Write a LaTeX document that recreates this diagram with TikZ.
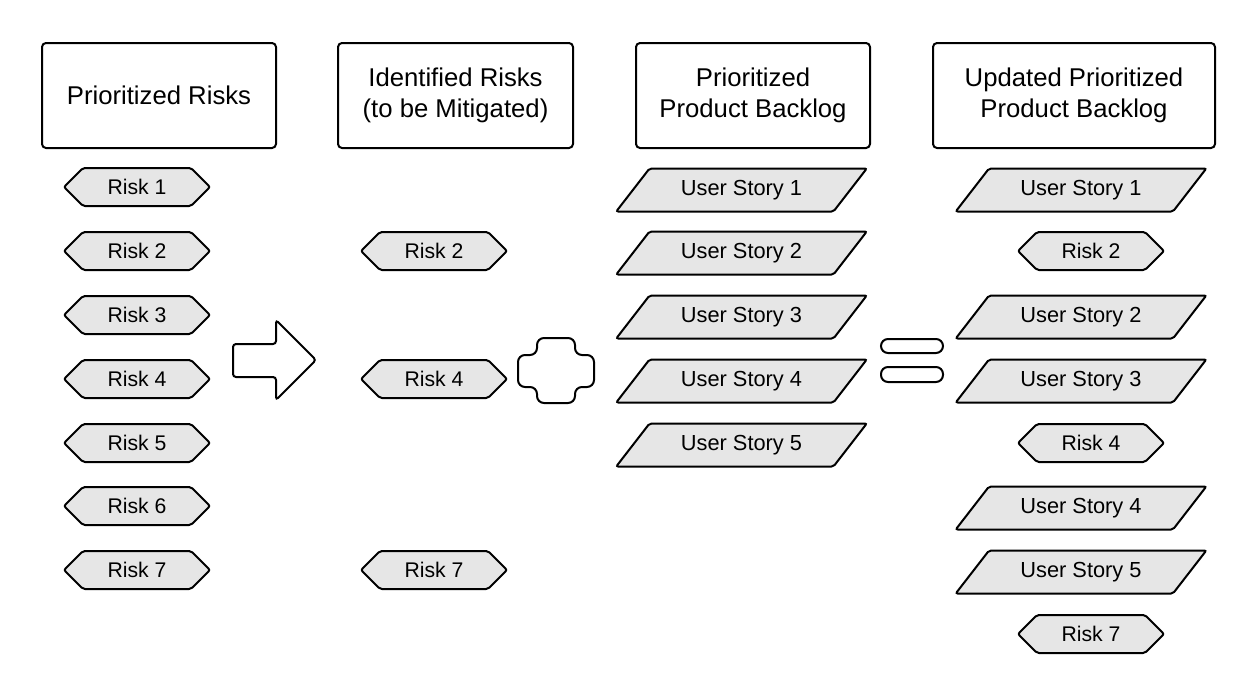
\documentclass[tikz,border=0pt]{standalone}
\usepackage{fontspec}
\setmainfont{Liberation Sans}
\usetikzlibrary{shapes.symbols,shapes.geometric}
\definecolor{boxgray}{HTML}{E6E6E6}
\tikzset{
  hdr/.style={draw, line width=1pt, rounded corners=2pt, minimum width=117pt, minimum height=52.5pt, align=center, font=\fontsize{12.85}{15.5}\selectfont},
  risk/.style={draw, fill=boxgray, line width=1pt, rounded corners=1pt, signal, signal to=west and east, signal pointer angle=90, minimum width=73pt, minimum height=19pt, inner sep=0pt, font=\fontsize{10.6}{12}\selectfont},
  story/.style={draw, fill=boxgray, line width=1pt, rounded corners=1pt, trapezium, trapezium left angle=42, trapezium right angle=138, trapezium stretches=true, minimum width=125.5pt, minimum height=21.5pt, inner sep=0pt, font=\fontsize{10.9}{12}\selectfont},
  sym/.style={draw, line width=1pt}
}
\begin{document}
\begin{tikzpicture}[x=0.5pt,y=-0.5pt]
\useasboundingbox (0,0) rectangle (1258,696);
% headers
\node[hdr] (hrisks) at (159,95.5) {Prioritized Risks};
\node[hdr, minimum width=117.5pt] (hident) at (455.5,95.5) {Identified Risks\\(to be Mitigated)};
\node[hdr] (hback) at (753,95.5) {Prioritized\\Product Backlog};
\node[hdr, minimum width=141pt] (hupd) at (1074,95.5) {Updated Prioritized\\Product Backlog};
% prioritized risks
\node[risk] (pr1) at (137,187) {Risk 1};
\node[risk] (pr2) at (137,251) {Risk 2};
\node[risk] (pr3) at (137,315) {Risk 3};
\node[risk] (pr4) at (137,379) {Risk 4};
\node[risk] (pr5) at (137,443) {Risk 5};
\node[risk] (pr6) at (137,506) {Risk 6};
\node[risk] (pr7) at (137,570) {Risk 7};
% identified risks
\node[risk] (ir2) at (434,251) {Risk 2};
\node[risk] (ir4) at (434,379) {Risk 4};
\node[risk] (ir7) at (434,570) {Risk 7};
% product backlog
\node[story] (us1) at (741.5,190) {User Story 1};
\node[story] (us2) at (741.5,253) {User Story 2};
\node[story] (us3) at (741.5,317) {User Story 3};
\node[story] (us4) at (741.5,381) {User Story 4};
\node[story] (us5) at (741.5,445) {User Story 5};
% updated backlog
\node[story] (ub1) at (1081,190) {User Story 1};
\node[risk] (ubr2) at (1091,251) {Risk 2};
\node[story] (ub2) at (1081,317) {User Story 2};
\node[story] (ub3) at (1081,381) {User Story 3};
\node[risk] (ubr4) at (1091,443) {Risk 4};
\node[story] (ub4) at (1081,508) {User Story 4};
\node[story] (ub5) at (1081,572) {User Story 5};
\node[risk] (ubr7) at (1091,634) {Risk 7};
% arrow, plus, equals
\draw[sym, rounded corners=1.5pt] (233,344) -- (276,344) -- (276,320) -- (316,360) -- (276,400) -- (276,377) -- (233,377) -- cycle;
\draw[sym, rounded corners=3.5pt] (537,338) -- (575,338) -- (575,355) -- (594,355) -- (594,387) -- (575,387) -- (575,403) -- (537,403) -- (537,387) -- (518,387) -- (518,355) -- (537,355) -- cycle;
\draw[sym, rounded corners=3.5pt] (881,339) rectangle (943,353);
\draw[sym, rounded corners=3.5pt] (881,367) rectangle (943,382);
\end{tikzpicture}
\end{document}
